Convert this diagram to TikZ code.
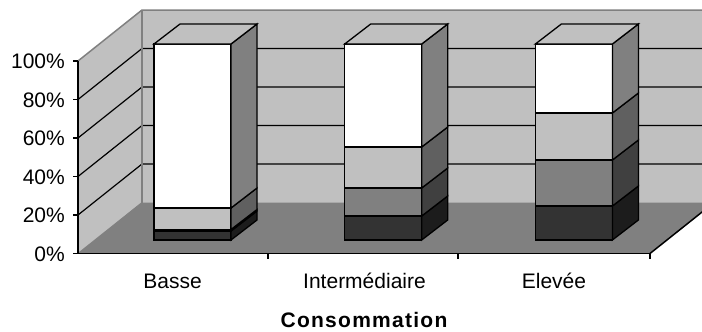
\documentclass[tikz,border=0pt]{standalone}
\usepackage{fontspec}
\setmainfont{Liberation Sans}
\definecolor{wallfill}{HTML}{C0C0C0}
\definecolor{floorfill}{HTML}{808080}
\definecolor{wallline}{HTML}{808080}
\definecolor{cA}{HTML}{333333}
\definecolor{cB}{HTML}{808080}
\definecolor{cC}{HTML}{C0C0C0}
\definecolor{cD}{HTML}{FFFFFF}
\definecolor{sA}{HTML}{1C1C1C}
\definecolor{sB}{HTML}{404040}
\definecolor{sC}{HTML}{606060}
\definecolor{sD}{HTML}{808080}
\newcommand\barseg[5]{%
  \filldraw[barline, fill=#4] (#1,#2) rectangle (#1+77,#3);
  \filldraw[barline, fill=#5] (#1+77,#2) -- (#1+103,#2-20) -- (#1+103,#3-20) -- (#1+77,#3) -- cycle;}
\newcommand\bartop[1]{%
  \filldraw[barline, fill=wallfill] (#1,44) -- (#1+26,24) -- (#1+103,24) -- (#1+77,44) -- cycle;}
\begin{document}
\begin{tikzpicture}[x=1pt,y=-1pt, font=\fontsize{21}{25}\selectfont,
  gridline/.style={black, line width=1.2pt},
  barline/.style={draw=black, line width=1.3pt, line join=miter},
  axisline/.style={black, line width=1.5pt},
  ticklab/.style={anchor=base east, inner sep=0pt},
  catlab/.style={anchor=base, inner sep=0pt}]
\useasboundingbox (0,0) rectangle (702,332);
\begin{scope}
  \clip (0,0) rectangle (702,332);
  \fill[wallfill] (142,10) rectangle (716,202.5);
  \fill[wallfill] (78,253.5) -- (78,61) -- (142,10) -- (142,202.5) -- cycle;
  \fill[floorfill] (78,253.5) -- (142,202.5) -- (714,202.5) -- (650,253.5) -- cycle;
  \foreach \k in {1,2,3,4} {
    \draw[gridline] (78,253.5-38.5*\k) -- (142,202.5-38.5*\k) -- (716,202.5-38.5*\k);
  }
  \draw[wallline, line width=1.5pt] (78,61) -- (142,10) -- (716,10);
  \draw[wallline, line width=1.5pt] (142,10) -- (142,202.5);
  \draw[wallline, line width=1pt] (78,253.5) -- (142,202.5);
  \draw[axisline] (650,253.5) -- (714,202.5);
\end{scope}
% bar 1 : Basse
\barseg{154}{240}{231}{cA}{sA}
\barseg{154}{231}{229.5}{cB}{sB}
\barseg{154}{229.5}{208}{cC}{sC}
\barseg{154}{208}{44}{cD}{sD}
\bartop{154}
% bar 2 : Intermediaire
\barseg{344.7}{240}{216}{cA}{sA}
\barseg{344.7}{216}{188}{cB}{sB}
\barseg{344.7}{188}{147}{cC}{sC}
\barseg{344.7}{147}{44}{cD}{sD}
\bartop{344.7}
% bar 3 : Elevee
\barseg{535.4}{240}{206}{cA}{sA}
\barseg{535.4}{206}{160}{cB}{sB}
\barseg{535.4}{160}{113}{cC}{sC}
\barseg{535.4}{113}{44}{cD}{sD}
\bartop{535.4}
% axes
\draw[axisline] (78,61) -- (78,253.5) -- (650,253.5);
\foreach \k/\t in {0/0,1/20,2/40,3/60,4/80,5/100} {
  \draw[axisline, line width=1.2pt] (73,253.5-38.5*\k) -- (78,253.5-38.5*\k);
  \node[ticklab] (lab\t) at (65,261-38.5*\k) {\t\%};
}
\foreach \x in {268,458,650} {
  \draw[axisline, line width=1.2pt] (\x,253.5) -- (\x,258.5);
}
\node[catlab] (cat1) at (172.6,288) {Basse};
\node[catlab] (cat2) at (364.5,288) {Intermédiaire};
\node[catlab] (cat3) at (554,288) {Elevée};
\node[catlab, font=\fontsize{21}{25}\selectfont\bfseries\addfontfeature{LetterSpace=6}] (title) at (364,327) {Consommation};
\end{tikzpicture}
\end{document}
